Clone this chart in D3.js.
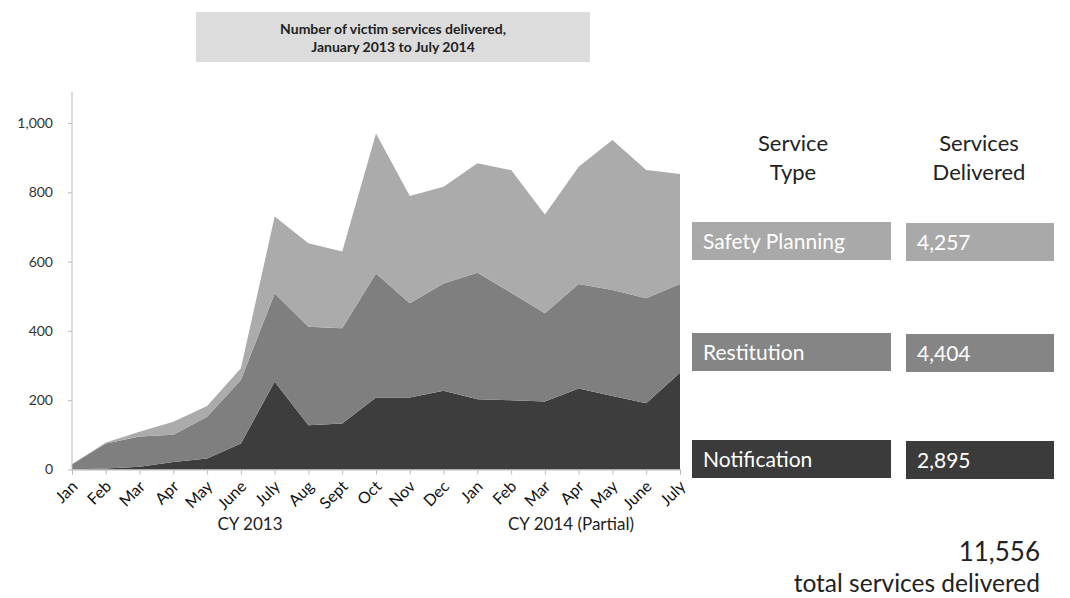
<!DOCTYPE html>
<html>
<head>
<meta charset="utf-8">
<script src="https://cdn.jsdelivr.net/npm/d3@7"></script>
<style>
body{margin:0;background:#fff;}
svg{display:block;}
text{font-family:Lato,"Open Sans",sans-serif;}
</style>
</head>
<body>
<svg id="chart" width="1070" height="598"></svg>
<script>
const months = ["Jan","Feb","Mar","Apr","May","June","July","Aug","Sept","Oct","Nov","Dec","Jan","Feb","Mar","Apr","May","June","July"];
const notification = [0,3,8,22,32,75,253,128,133,208,208,227,203,200,196,234,212,191,279];
const restitution = [15,72,87,78,120,183,255,284,275,358,272,310,365,310,255,301,306,303,256];
const safetyPlanning = [0,3,14,38,31,34,222,241,221,404,309,279,316,354,285,339,433,370,318];
const yTicks = [0,200,400,600,800,1000];
const seriesNames = ["Notification","Restitution","Safety Planning"];
const totals = ["2,895","4,404","4,257"];
const grandTotal = "11,556";
const colors = {"Notification":"#3d3d3d","Restitution":"#7f7f7f","Safety Planning":"#ababab"};
const boxColors = {"Notification":"#3b3b3b","Restitution":"#858585","Safety Planning":"#a9a9a9"};

const svg = d3.select("#chart");
const x = d3.scalePoint().domain(d3.range(months.length)).range([72,680]);
const y = d3.scaleLinear().domain([0,1000]).range([469.5,123]);

const rows = months.map((m,i)=>({i, "Notification":notification[i], "Restitution":restitution[i], "Safety Planning":safetyPlanning[i]}));
const stack = d3.stack().keys(seriesNames)(rows);
const area = d3.area().x(d=>x(d.data.i)).y0(d=>y(d[0])).y1(d=>y(d[1]));
svg.append("g").selectAll("path").data(stack).join("path")
  .attr("d",area).attr("fill",d=>colors[d.key]);

// axes
const yAxis = svg.append("g").attr("transform","translate(72,0)")
  .call(d3.axisLeft(y).tickValues(yTicks).tickSize(4).tickPadding(15).tickFormat(d3.format(",")));
yAxis.select(".domain").attr("d","M0,92V469.5").attr("stroke","#bbb");
yAxis.selectAll(".tick line").attr("stroke","#bbb");
yAxis.selectAll("text").attr("font-size",14).attr("fill","#333");

const xAxis = svg.append("g").attr("transform","translate(0,469.5)")
  .call(d3.axisBottom(x).tickSize(5).tickFormat(i=>months[i]));
xAxis.select(".domain").attr("stroke","#bbb");
xAxis.selectAll(".tick line").attr("stroke","#bbb");
xAxis.selectAll("text").attr("font-size",16).attr("fill","#111")
  .attr("text-anchor","end").attr("dy",0).attr("y",0)
  .attr("transform","translate(6,18) rotate(-45)");

svg.append("text").attr("x",250).attr("y",530).attr("text-anchor","middle").attr("font-size",17).attr("fill","#222").text("CY 2013");
svg.append("text").attr("x",571).attr("y",530).attr("text-anchor","middle").attr("font-size",17).attr("fill","#222").text("CY 2014 (Partial)");

// title
svg.append("rect").attr("x",196).attr("y",12).attr("width",394).attr("height",50).attr("fill","#dcdcdc");
svg.append("text").attr("x",393).attr("y",34).attr("text-anchor","middle").attr("font-size",14).attr("font-weight","bold").attr("fill","#222").text("Number of victim services delivered,");
svg.append("text").attr("x",393).attr("y",52).attr("text-anchor","middle").attr("font-size",14).attr("font-weight","bold").attr("fill","#222").text("January 2013 to July 2014");

// table
const hdr = svg.append("g").attr("font-size",22).attr("fill","#222").attr("text-anchor","middle");
hdr.append("text").attr("x",793).attr("y",151).text("Service");
hdr.append("text").attr("x",793).attr("y",180).text("Type");
hdr.append("text").attr("x",979).attr("y",151).text("Services");
hdr.append("text").attr("x",979).attr("y",180).text("Delivered");

const rowY = {"Safety Planning":222,"Restitution":333,"Notification":440};
seriesNames.forEach((s,k)=>{
  const yy = rowY[s];
  svg.append("rect").attr("x",692).attr("y",yy).attr("width",199).attr("height",38).attr("fill",boxColors[s]);
  svg.append("rect").attr("x",906).attr("y",yy+1).attr("width",148).attr("height",38).attr("fill",boxColors[s]);
  svg.append("text").attr("x",703).attr("y",yy+27).attr("font-size",21).attr("fill","#fff").text(s);
  svg.append("text").attr("x",917).attr("y",yy+28).attr("font-size",21).attr("fill","#fff").text(totals[k]);
});
svg.append("text").attr("x",1040).attr("y",561).attr("text-anchor","end").attr("font-size",26).attr("fill","#222").text(grandTotal);
svg.append("text").attr("x",1040).attr("y",592).attr("text-anchor","end").attr("font-size",24.5).attr("fill","#222").text("total services delivered");
</script>
</body>
</html>
